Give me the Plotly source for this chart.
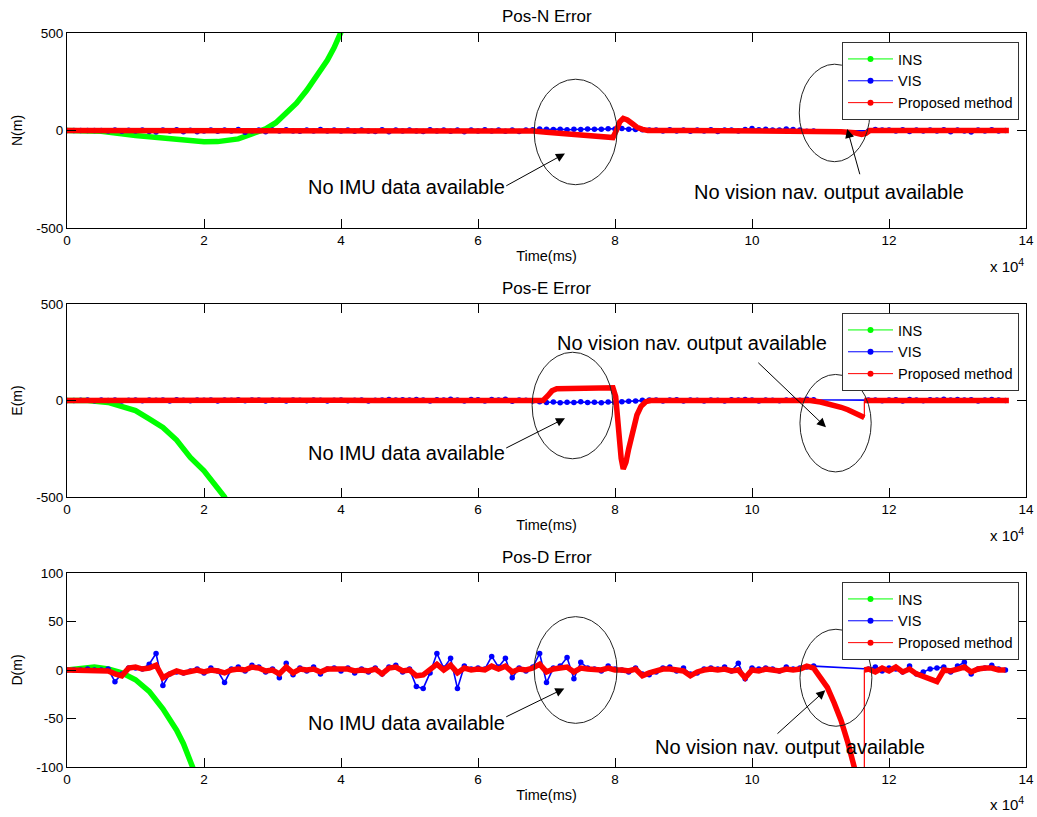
import plotly.graph_objects as go

# ---------------- data (time in units of 10^4 ms) ----------------
T = [round(0.1 * i, 1) for i in range(138)]  # sample clock 0.0 ... 13.7

X_TICKS = [0, 2, 4, 6, 8, 10, 12, 14]
X_TICK_TEXT = ["0", "2", "4", "6", "8", "10", "12", "14"]
Y_TICKS_NE = [-500, 0, 500]
Y_TICK_TEXT_NE = ["-500", "0", "500"]
Y_TICKS_D = [-100, -50, 0, 50, 100]
Y_TICK_TEXT_D = ["-100", "-50", "0", "50", "100"]

SERIES_NAMES = ["INS", "VIS", "Proposed method"]
SERIES_COLORS = ["#00ff00", "#0000ff", "#ff0000"]
TITLES = ["Pos-N Error", "Pos-E Error", "Pos-D Error"]
Y_LABELS = ["N(m)", "E(m)", "D(m)"]

# --- Pos-N ---
INS_N_T = [0, 0.5, 1.0, 1.5, 2.0, 2.2, 2.5, 2.7, 2.9, 3.05, 3.2, 3.35, 3.5, 3.65, 3.8, 3.9, 4.0, 4.05]
INS_N_V = [0, -4, -26, -43, -58, -57, -43, -17, 8, 40, 86, 140, 206, 280, 360, 425, 500, 545]
VIS_N_V = [0, 0, 0, 0, 0, 0, -3, 2, -4, 1,
           -2, 3, -5, -8, 2, -3, 4, -6, 1, -7,
           -2, 3, -4, 2, -3, 5, -9, -2, 3, -6,
           2, -3, 4, -2, -4, 3, -2, 5, -3, 2,
           -3, 2, -4, 3, -2, -5, 4, -6, 2, -3,
           3, -2, -5, 4, -3, 2, -4, 3, -6, 2,
           -3, 4, -2, 3, -4, 2, -5, 3, 4, 8,
           6, 5, 7, 4, 6, 5, 8, 6, 7, 9,
           8, 10, 7, 5, 4, 2, 3, -2, 4, -3,
           2, -4, 3, -2, 4, -5, 2, 3, -3, 5,
           10, 4, 6, 3, 2, 8, 5, 3, -4, -2,
           None, None, None, None, None, None, None, -2, 5, 2,
           3, -2, 4, -5, 2, -3, 3, -2, 4, -6,
           2, -3, -8, 3, -2, 4, -3, 0]
RED_N_T = [0, 0.5, 1, 1.5, 2, 2.5, 3, 3.5, 4, 4.5, 5, 5.5, 6, 6.5,
           6.8, 7.0, 7.3, 7.6, 7.8, 7.97, 8.02, 8.07, 8.12, 8.18,
           8.25, 8.32, 8.4, 8.48, 9.0, 9.5, 10.0, 10.5, 10.9, 11.1,
           11.3, 11.5, 11.6, 11.66, 11.72, 12.0, 12.5, 13.0, 13.5, 13.75]
RED_N_V = [0, 0, -1, 0, -1, 0, 0, -1, 0, 0, -1, 0, 0, -1,
           -3, -9, -16, -23, -29, -36, 0, 45, 62, 54,
           36, 17, 6, 0, 0, -2, 0, 0, -1, -3,
           -6, -12, -20, -15, 0, 0, 1, 0, 0, 0]

# --- Pos-E ---
INS_E_T = [0, 0.3, 0.6, 0.8, 1.0, 1.2, 1.4, 1.6, 1.8, 2.0, 2.2, 2.3, 2.35]
INS_E_V = [0, 0, -10, -28, -52, -95, -140, -205, -295, -364, -451, -500, -540]
VIS_E_V = [0, 0, 1, 2, -1, 3, 0, 2, -2, 1,
           2, -1, 3, 1, 2, -2, 4, 1, -1, 2,
           1, 3, -2, 2, 1, 4, -1, 2, 3, -2,
           2, 1, -2, 3, 1, -1, 2, 1, -2, 1,
           2, -1, 1, 3, -2, 1, 3, 5, 2, 4,
           3, 5, 2, -3, 4, 2, 6, 3, -2, 5,
           4, -3, 5, 2, 6, -4, 3, 1, -2, -6,
           -10, -8, -12, -9, -11, -7, -10, -9, -12, -8,
           -10, -6, -4, -2, 1, 2, 3, -2, 2, 4,
           -3, 2, 1, -2, 3, 1, -2, 4, 2, 5,
           3, -2, 2, 1, -1, 2, 3, 1, 6, 4,
           None, None, None, None, None, None, None, 2, 3, -1,
           2, 4, -2, 5, 3, -1, 4, 2, 6, 3,
           5, 2, 4, -2, 3, 5, 2, 0]
RED_E_T = [0, 0.5, 1, 1.5, 2, 2.5, 3, 3.5, 4, 4.5, 5, 5.5, 6, 6.5, 6.95,
           7.02, 7.08, 7.15, 7.4, 7.7, 7.97, 8.01, 8.05, 8.09, 8.12,
           8.16, 8.2, 8.26, 8.32, 8.38, 8.45, 8.52, 9.0, 9.5, 10.0,
           10.5, 10.85, 11.0, 11.1, 11.2, 11.3, 11.4, 11.5, 11.64, 11.64,
           12.0, 12.5, 13.0, 13.5, 13.75]
RED_E_V = [0, 1, 0, 1, 0, 1, 0, 0, 1, 0, 1, 0, 1, 0, 0,
           25, 50, 61, 62, 65, 66, 20, -150, -300, -355,
           -320, -250, -160, -75, -30, -6, 0, 0, 1, 0,
           1, 0, -8, -15, -24, -35, -48, -62, -88, 0,
           1, 0, 1, 0, 0]

# --- Pos-D ---
INS_D_T = [0, 0.2, 0.4, 0.6, 0.8, 1.0, 1.2, 1.4, 1.6, 1.7, 1.8, 1.9]
INS_D_V = [0, 2, 3, 1, -3, -10, -22, -40, -62, -76, -92, -112]
VIS_D_V = [0, 0, 0, 1, 0, 0, 1, -12, -4, 2,
           2, 1, 6, 17, -16, -4, -2, -3, -1, 1,
           -3, 2, -1, -13, 1, 3, -1, 5, 3, -2,
           1, -8, 7, -5, 2, -1, 3, -4, 1, 2,
           -1, 2, -3, 1, -2, 2, -4, 3, 5, -2,
           1, -17, -19, -3, 17, 2, 12, -19, 4, 1,
           2, 1, 14, 3, 12, -8, 2, -1, 3, 17,
           -13, 2, 4, 13, -9, 8, 2, 1, -1, 4,
           1, 0, -2, 2, -4, -5, -2, 2, 3, -1,
           2, -4, -3, 1, 2, 1, 3, -1, 7, -9,
           2, 1, 2, 1, -1, 3, 1, 2, 3, 4,
           None, None, None, None, None, None, None, 1, 3, -1,
           2, 1, -2, 4, -4, -2, 1, 2, 3, -2,
           4, 8, -4, 1, 2, 5, 1, 0]
RED_D_T = T[:117] + [11.64, 11.64] + T[117:]
RED_D_V = [0, 0, 0, 0, 0, 0, -1, -4, -6, 2,
           3, 1, 2, 5, -8, -4, -1, -3, -2, 0,
           -2, 0, -1, -3, 0, 1, 0, 3, 2, -1,
           0, -4, 3, -3, 1, 0, 1, -2, 1, 1,
           0, 1, -1, 0, -1, 1, -4, 2, 3, -1,
           0, -6, -5, 1, 6, 0, 5, -3, 2, 0,
           1, 0, 4, 1, 4, -2, 1, 0, 2, 6,
           -2, 1, 2, 3, -2, 2, 1, 0, 0, 2,
           0, 0, -1, 1, -6, -3, -1, 1, 1, 0,
           -1, -6, -2, 0, 1, 0, 1, -1, 0, -8,
           0, -1, 1, 0, -1, 1, 0, 1, 4, 2,
           -7, -18, -34, -52, -75, -100, -128,
           -140, 0,
           1, -2, 2,
           -1, 3, -2, 1, -4, -7, -9, -12, 0, -1,
           1, 3, -2, 1, 2, 2, 0, 0]

# ellipses: (t0, t1, y0, y1) per panel
ELLIPSES = [
    [(6.82, 8.03, -278, 263), (10.69, 11.72, -160, 340)],
    [(6.79, 7.97, -302, 250), (10.70, 11.74, -370, 135)],
    [(6.82, 8.03, -55, 55), (10.70, 11.75, -58, 42)],
]
# annotation texts: (text, t, y)
NOTES = [
    [("No IMU data available", 4.95, -288), ("No vision nav. output available", 11.12, -314)],
    [("No IMU data available", 4.95, -270), ("No vision nav. output available", 9.12, 296)],
    [("No IMU data available", 4.95, -55), ("No vision nav. output available", 10.55, -79)],
]
# arrows: (tail_t, tail_y, head_t, head_y)
ARROWS = [
    [(6.39, -288, 7.27, -118), (11.58, -232, 11.39, 8)],
    [(6.39, -250, 7.27, -92), (10.07, 203, 11.08, -139)],
    [(6.39, -49, 7.26, -19), (10.35, -67, 11.07, -21)],
]

# ---------------- layout geometry ----------------
W, H = 1037, 817
L, R, TOP, B = 67, 11, 33, 50
PW = W - L - R
PH = H - TOP - B
PANELS_PX = [(33, 228), (304, 497), (573, 767)]  # top/bottom pixel rows


def py(px):
    return (H - B - px) / PH


def px_x(px):
    return (px - L) / PW


FONT = "Liberation Sans, Arial, Helvetica, sans-serif"

fig = go.Figure()


def split_jumps(t, v):
    tt, vv, thin_x, thin_y = [], [], [], []
    for i in range(len(t)):
        if i > 0 and t[i] == t[i - 1]:
            tt.append(None)
            vv.append(None)
            thin_x += [t[i - 1], t[i], None]
            thin_y += [v[i - 1], v[i], None]
        tt.append(t[i])
        vv.append(v[i])
    return tt, vv, thin_x, thin_y


panels = [
    (INS_N_T, INS_N_V, VIS_N_V, RED_N_T, RED_N_V),
    (INS_E_T, INS_E_V, VIS_E_V, RED_E_T, RED_E_V),
    (INS_D_T, INS_D_V, VIS_D_V, RED_D_T, RED_D_V),
]

for k, (it, iv, vv, rt, rv) in enumerate(panels):
    xa = "x" if k == 0 else f"x{k + 1}"
    ya = "y" if k == 0 else f"y{k + 1}"
    fig.add_trace(go.Scatter(x=it, y=iv, mode="lines", xaxis=xa, yaxis=ya,
                             line=dict(color=SERIES_COLORS[0], width=5.5),
                             showlegend=False, hoverinfo="skip"))
    fig.add_trace(go.Scatter(x=T, y=vv, mode="lines+markers", xaxis=xa, yaxis=ya,
                             connectgaps=True,
                             line=dict(color=SERIES_COLORS[1], width=1.6),
                             marker=dict(color=SERIES_COLORS[1], size=5.5),
                             showlegend=False, hoverinfo="skip"))
    tt, tv, jx, jy = split_jumps(rt, rv)
    if jx:
        fig.add_trace(go.Scatter(x=jx, y=jy, mode="lines", xaxis=xa, yaxis=ya,
                                 line=dict(color=SERIES_COLORS[2], width=1.2),
                                 showlegend=False, hoverinfo="skip"))
    fig.add_trace(go.Scatter(x=tt, y=tv, mode="lines", xaxis=xa, yaxis=ya,
                             line=dict(color=SERIES_COLORS[2], width=5.5),
                             showlegend=False, hoverinfo="skip"))
    # legend entries
    lg = "legend" if k == 0 else f"legend{k + 1}"
    for name, col in zip(SERIES_NAMES, SERIES_COLORS):
        fig.add_trace(go.Scatter(x=[None], y=[None], mode="lines+markers", name=name,
                                 xaxis=xa, yaxis=ya, legend=lg,
                                 line=dict(color=col, width=1),
                                 marker=dict(color=col, size=6)))

layout = dict(
    width=W, height=H, autosize=False,
    margin=dict(l=L, r=R, t=TOP, b=B, pad=0, autoexpand=False),
    paper_bgcolor="white", plot_bgcolor="white",
    font=dict(family=FONT, size=13, color="black"),
    showlegend=True,
)

shapes, annotations = [], []
for k in range(3):
    top_px, bot_px = PANELS_PX[k]
    xs = "" if k == 0 else str(k + 1)
    is_d = k == 2
    layout[f"xaxis{xs}"] = dict(
        domain=[0, 1], anchor=f"y{xs}", range=[0, 14], automargin=False,
        tickvals=X_TICKS, ticktext=X_TICK_TEXT, ticks="inside", ticklen=9,
        tickcolor="black", showline=True, linecolor="black", linewidth=1,
        mirror="ticks", showgrid=False, zeroline=False,
        tickfont=dict(size=13.5, family=FONT),
        title=dict(text="Time(ms)", font=dict(size=14.5, family=FONT), standoff=3),
    )
    layout[f"yaxis{xs}"] = dict(
        domain=[py(bot_px), py(top_px)], anchor=f"x{xs}", automargin=False,
        range=[-100, 100] if is_d else [-500, 500],
        tickvals=Y_TICKS_D if is_d else Y_TICKS_NE,
        ticktext=Y_TICK_TEXT_D if is_d else Y_TICK_TEXT_NE,
        ticks="inside", ticklen=9, tickcolor="black",
        showline=True, linecolor="black", linewidth=1, mirror="ticks",
        showgrid=False, zeroline=False,
        tickfont=dict(size=13.5, family=FONT),
        title=dict(text=Y_LABELS[k], font=dict(size=14, family=FONT), standoff=10),
    )
    lg = "legend" if k == 0 else f"legend{k + 1}"
    layout[lg] = dict(
        x=px_x(842), y=py(top_px + 9), xanchor="left", yanchor="top",
        bgcolor="white", bordercolor="#333333", borderwidth=1,
        font=dict(size=14.5, family=FONT), itemwidth=45, tracegroupgap=0,
    )
    # titles
    annotations.append(dict(text=TITLES[k], xref="paper", yref="paper", x=0.5,
                            y=py(top_px - 16), showarrow=False,
                            font=dict(size=17, family=FONT), yanchor="middle"))
    annotations.append(dict(text="x 10<sup>4</sup>", xref="paper", yref="paper",
                            x=px_x(1026), y=py(bot_px + 37),
                            xanchor="right", yanchor="middle", showarrow=False,
                            font=dict(size=15, family=FONT)))
    xr, yr = f"x{xs}", f"y{xs}"
    for (t0, t1, y0, y1) in ELLIPSES[k]:
        shapes.append(dict(type="circle", xref=xr, yref=yr, x0=t0, x1=t1, y0=y0, y1=y1,
                           line=dict(color="#222222", width=1)))
    for (txt, tx, ty) in NOTES[k]:
        annotations.append(dict(text=txt, xref=xr, yref=yr, x=tx, y=ty, showarrow=False,
                                font=dict(size=20, family=FONT, color="black"),
                                xanchor="center", yanchor="middle"))
    for (at, ay, ht, hy) in ARROWS[k]:
        annotations.append(dict(text="", xref=xr, yref=yr, x=ht, y=hy,
                                axref=xr, ayref=yr, ax=at, ay=ay, showarrow=True,
                                arrowhead=2, arrowsize=1.8, arrowwidth=1,
                                arrowcolor="black", standoff=0, startstandoff=0))

layout["shapes"] = shapes
layout["annotations"] = annotations
fig.update_layout(**layout)

fig.write_html(
    "out.html",
    config={"displayModeBar": False, "responsive": False},
    post_script="document.body.style.margin='0';document.body.style.padding='0';"
                "document.body.style.overflow='hidden';",
)
